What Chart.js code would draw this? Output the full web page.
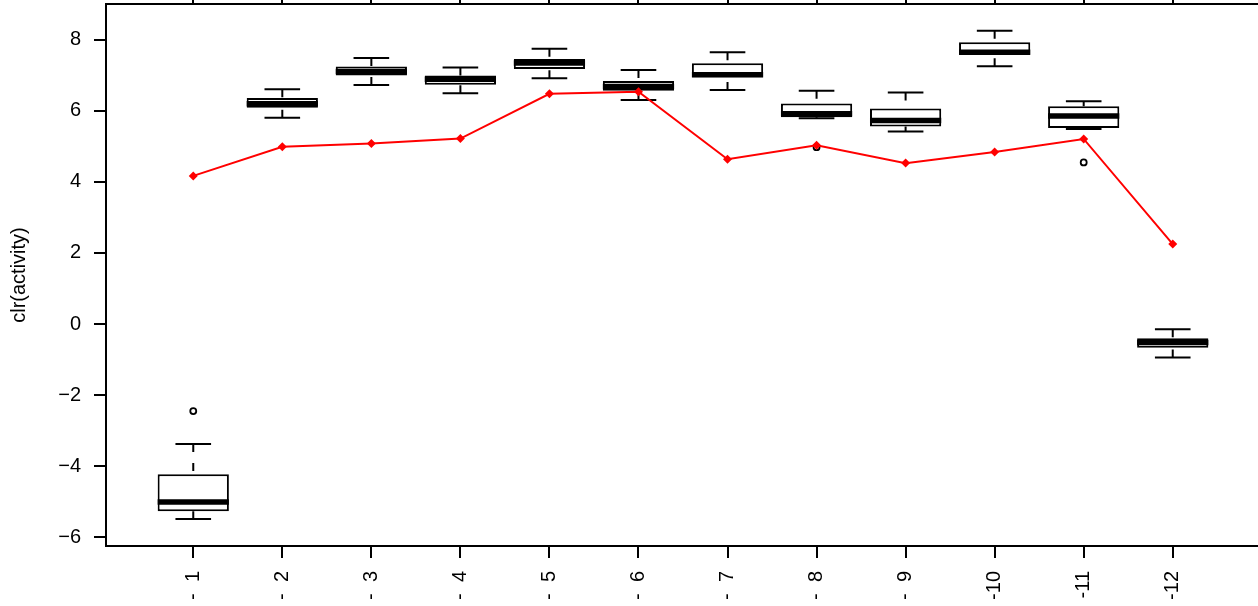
<!DOCTYPE html>
<html>
<head>
<meta charset="utf-8">
<script src="https://cdn.jsdelivr.net/npm/chart.js@4.4.1/dist/chart.umd.min.js"></script>
<style>
html, body { margin:0; padding:0; overflow:hidden; background:#fff; }
#wrap { width:1260px; height:606px; }
</style>
</head>
<body>
<div id="wrap"><canvas id="c" width="1260" height="606" style="width:1260px;height:606px"></canvas></div>
<script>
// ---- data ----
const categories = [1, 2, 3, 4, 5, 6, 7, 8, 9, 10, 11, 12];
const xLabels = ["-  1", "-  2", "-  3", "-  4", "-  5", "-  6", "-  7", "-  8", "-  9", "-10", "-11", "-12"];
const whiskerLow  = [-5.49, 5.81, 6.73, 6.50, 6.92, 6.31, 6.59, 5.79, 5.42, 7.26, 5.49, -0.94];
const q1          = [-5.27, 6.09, 7.00, 6.74, 7.18, 6.57, 6.95, 5.82, 5.56, 7.59, 5.52, -0.67];
const median      = [-5.01, 6.20, 7.11, 6.89, 7.35, 6.69, 7.02, 5.92, 5.73, 7.65, 5.86, -0.52];
const q3          = [-4.23, 6.36, 7.25, 7.00, 7.46, 6.84, 7.34, 6.21, 6.07, 7.93, 6.13, -0.40];
const whiskerHigh = [-3.38, 6.61, 7.49, 7.22, 7.75, 7.15, 7.65, 6.57, 6.52, 8.26, 6.27, -0.15];
const outlierCats = [1, 8, 11];
const outlierVals = [-2.45, 4.98, 4.55];
const redLine = [4.17, 4.99, 5.08, 5.22, 6.48, 6.54, 4.64, 5.03, 4.53, 4.84, 5.21, 2.25];
const yTicks = [-6, -4, -2, 0, 2, 4, 6, 8];
const yTitle = "clr(activity)";

const FONT = "'Liberation Sans', Arial, Helvetica, sans-serif";

const boxExtras = {
  id: 'boxExtras',
  afterDatasetDraw(chart, args) {
    if (args.index !== 0) return;
    const ctx = chart.ctx, xs = chart.scales.x, ys = chart.scales.y;
    ctx.save();
    ctx.strokeStyle = '#000';
    categories.forEach((c, i) => {
      const xc = xs.getPixelForValue(c);
      const capL = xs.getPixelForValue(c - 0.2), capR = xs.getPixelForValue(c + 0.2);
      const boxL = xs.getPixelForValue(c - 0.4), boxR = xs.getPixelForValue(c + 0.4);
      // whiskers (dashed), drawn from whisker end to box
      ctx.lineWidth = 2;
      ctx.setLineDash([8, 11]);
      ctx.beginPath();
      ctx.moveTo(xc, ys.getPixelForValue(whiskerHigh[i]));
      ctx.lineTo(xc, ys.getPixelForValue(q3[i]));
      ctx.moveTo(xc, ys.getPixelForValue(whiskerLow[i]));
      ctx.lineTo(xc, ys.getPixelForValue(q1[i]));
      ctx.stroke();
      // caps
      ctx.setLineDash([]);
      ctx.beginPath();
      ctx.moveTo(capL, ys.getPixelForValue(whiskerHigh[i]));
      ctx.lineTo(capR, ys.getPixelForValue(whiskerHigh[i]));
      ctx.moveTo(capL, ys.getPixelForValue(whiskerLow[i]));
      ctx.lineTo(capR, ys.getPixelForValue(whiskerLow[i]));
      ctx.stroke();
      // median
      ctx.lineWidth = 5.5;
      ctx.lineCap = 'butt';
      ctx.beginPath();
      ctx.moveTo(boxL, ys.getPixelForValue(median[i]));
      ctx.lineTo(boxR, ys.getPixelForValue(median[i]));
      ctx.stroke();
    });
    ctx.restore();
  }
};

const setCatTicks = s => { s.ticks = categories.map(v => ({ value: v })); };

new Chart(document.getElementById('c'), {
  type: 'bar',
  data: {
    datasets: [
      {
        type: 'bar',
        order: 3,
        data: categories.map((c, i) => ({ x: c, y: [q1[i], q3[i]] })),
        backgroundColor: '#ffffff',
        borderColor: '#000000',
        borderWidth: 2,
        borderSkipped: false,
        barPercentage: 0.8,
        categoryPercentage: 1.0
      },
      {
        type: 'scatter',
        order: 2,
        data: outlierCats.map((c, i) => ({ x: c, y: outlierVals[i] })),
        pointStyle: 'circle',
        pointRadius: 3,
        pointBorderWidth: 1.8,
        pointBorderColor: '#000',
        pointBackgroundColor: 'rgba(0,0,0,0)',
        showLine: false
      },
      {
        type: 'line',
        order: 1,
        data: categories.map((c, i) => ({ x: c, y: redLine[i] })),
        borderColor: '#ff0000',
        borderWidth: 2,
        tension: 0,
        fill: false,
        pointStyle: 'rectRot',
        pointRadius: 4.5,
        pointBorderWidth: 0,
        pointBackgroundColor: '#ff0000',
        pointBorderColor: '#ff0000'
      }
    ]
  },
  options: {
    responsive: false,
    animation: false,
    devicePixelRatio: 1,
    layout: { padding: 0, autoPadding: false },
    plugins: { legend: { display: false }, tooltip: { enabled: false } },
    scales: {
      x: {
        type: 'linear',
        position: 'bottom',
        min: 0.02,
        max: 12.98,
        offset: false,
        afterBuildTicks: setCatTicks,
        afterFit: s => { s.height = 60; s.paddingLeft = 0; s.paddingRight = 0; },
        grid: { offset: false, drawOnChartArea: false, drawTicks: true, tickLength: 12, color: '#000', lineWidth: 2 },
        border: { display: true, color: '#000', width: 2 },
        ticks: {
          minRotation: 90, maxRotation: 90, padding: 13, autoSkip: false,
          color: '#000', font: { family: FONT, size: 20 },
          callback: v => xLabels[categories.indexOf(v)]
        }
      },
      xTop: {
        type: 'linear',
        position: 'top',
        min: 0.02,
        max: 12.98,
        offset: false,
        afterBuildTicks: setCatTicks,
        afterFit: s => { s.height = 4; s.paddingLeft = 0; s.paddingRight = 0; },
        grid: { offset: false, drawOnChartArea: false, drawTicks: true, tickLength: 12, color: '#000', lineWidth: 2 },
        border: { display: true, color: '#000', width: 2 },
        ticks: { display: false }
      },
      y: {
        type: 'linear',
        position: 'left',
        min: -6.25,
        max: 9.01,
        afterBuildTicks: s => { s.ticks = yTicks.map(v => ({ value: v })); },
        afterFit: s => { s.width = 106; s.paddingTop = 0; s.paddingBottom = 0; },
        grid: { offset: false, drawOnChartArea: false, drawTicks: true, tickLength: 12, color: '#000', lineWidth: 2 },
        border: { display: true, color: '#000', width: 2 },
        ticks: {
          padding: 13, color: '#000', font: { family: FONT, size: 20 },
          callback: v => (v < 0 ? '\u2212' + Math.abs(v) : String(v))
        },
        title: {
          display: true, text: yTitle, color: '#000',
          font: { family: FONT, size: 20 }, padding: { top: 7, bottom: 0 }
        }
      }
    }
  },
  plugins: [boxExtras]
});
</script>
</body>
</html>
